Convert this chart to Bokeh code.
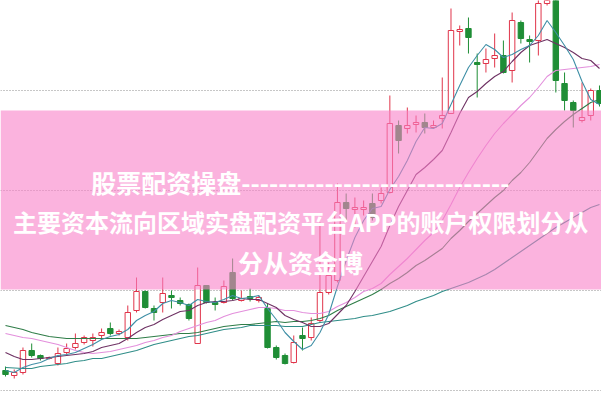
from bokeh.plotting import figure
from bokeh.models import Range1d, Grid, FixedTicker, BoxAnnotation, Label, ColumnDataSource
from bokeh.embed import file_html
from bokeh.resources import INLINE

# ---------------- data ----------------
opens = [13.0, 12.5, 12.8, 15.0, 14.5, 14.2, 13.7, 14.8, 15.3, 15.8,
         16.0, 16.5, 17.2, 16.7, 16.3, 19.0, 20.9, 19.2, 19.8, 20.5,
         20.0, 19.6, 15.7, 21.5, 19.8, 19.8, 22.8, 20.0, 20.4, 20.0,
         19.2, 15.3, 14.5, 13.8, 16.5, 16.3, 18.0, 20.8, 22.0, 29.8,
         29.1, 29.1, 29.7, 30.0, 30.8, 37.5, 37.2, 37.6, 37.8, 37.3,
         38.2, 38.7, 46.9, 47.2, 43.8, 43.7, 44.2, 44.5, 43.0, 47.8,
         46.1, 46.0, 49.7, 50.3, 41.7, 39.8, 38.0, 38.5, 41.0]
closes = [12.6, 12.8, 15.0, 14.5, 14.2, 14.3, 14.7, 15.2, 15.7, 16.3,
          16.3, 16.8, 16.7, 16.9, 18.8, 20.9, 19.3, 18.8, 20.7, 20.3,
          19.7, 18.2, 21.5, 19.8, 19.6, 21.4, 20.2, 20.2, 20.2, 20.3,
          15.3, 14.3, 13.7, 15.8, 16.2, 17.7, 20.8, 22.5, 29.8, 29.2,
          29.3, 29.3, 28.3, 30.7, 37.7, 36.0, 37.5, 37.8, 37.3, 37.5,
          38.5, 47.0, 47.1, 46.3, 43.6, 44.1, 44.5, 42.8, 48.0, 46.2,
          45.9, 49.7, 50.0, 42.0, 40.0, 39.0, 38.3, 41.0, 39.7]
highs = [13.4, 13.1, 15.3, 15.7, 14.6, 14.4, 15.3, 15.7, 16.7, 16.5,
         16.7, 17.2, 17.8, 17.1, 19.5, 22.3, 21.0, 19.5, 22.3, 21.0,
         20.3, 19.7, 23.3, 21.5, 20.3, 22.0, 24.2, 21.0, 21.2, 20.5,
         19.7, 15.5, 14.7, 16.5, 17.3, 18.3, 27.8, 23.8, 31.7, 30.7,
         30.3, 30.0, 30.7, 31.3, 40.5, 38.0, 39.3, 38.5, 38.7, 38.0,
         42.3, 49.2, 47.5, 48.3, 44.7, 45.2, 46.7, 46.0, 48.8, 48.0,
         46.5, 50.5, 50.5, 50.5, 42.8, 40.0, 41.8, 41.2, 41.5]
lows = [12.4, 12.2, 12.6, 14.3, 14.0, 14.1, 13.5, 14.6, 15.1, 15.6,
        15.4, 16.2, 16.5, 16.5, 16.0, 18.8, 19.2, 18.0, 18.8, 19.2,
        19.5, 18.0, 15.7, 19.7, 19.0, 19.7, 20.0, 19.9, 19.9, 19.8,
        15.2, 14.1, 13.6, 13.7, 15.0, 16.0, 17.8, 20.6, 21.8, 28.0,
        27.3, 28.5, 28.0, 29.7, 30.7, 34.7, 36.7, 36.8, 36.7, 37.2,
        37.2, 38.7, 45.5, 44.7, 40.3, 42.8, 43.3, 42.7, 41.8, 45.7,
        43.8, 44.5, 49.5, 40.8, 39.0, 37.3, 37.8, 38.0, 39.4]

ma5 = [13.0, 12.8, 13.3, 13.6, 13.8, 14.2, 14.5, 14.6, 14.8, 15.2,
       15.6, 16.1, 16.4, 16.6, 17.1, 18.0, 18.5, 18.9, 19.7, 20.0,
       19.8, 19.5, 20.1, 19.9, 19.8, 20.1, 20.5, 20.2, 20.3, 20.5,
       19.2, 18.1, 16.8, 15.9, 15.1, 15.5, 16.8, 18.6, 21.4, 24.0,
       26.3, 28.0, 29.2, 29.4, 31.1, 32.4, 34.0, 35.9, 37.3, 37.2,
       37.7, 39.6, 41.5, 43.3, 44.5, 45.6, 45.1, 44.3, 44.6, 45.1,
       45.5, 46.5, 48.0, 46.8, 45.5, 44.1, 41.9, 40.1, 39.6]
ma10 = [14.8, 14.4, 14.1, 14.1, 14.2, 14.3, 14.4, 14.5, 14.6, 14.7,
        14.9, 15.3, 15.5, 15.7, 16.2, 16.8, 17.3, 17.6, 18.1, 18.5,
        18.9, 19.0, 19.5, 19.8, 19.9, 19.9, 20.0, 20.2, 20.1, 20.1,
        19.7, 19.3, 18.5, 18.1, 17.8, 17.4, 17.4, 17.7, 18.6, 19.5,
        20.9, 22.4, 23.9, 25.4, 27.5, 29.4, 31.0, 32.6, 33.3, 34.1,
        35.0, 36.8, 38.7, 40.3, 40.9, 41.7, 42.4, 42.9, 43.9, 44.8,
        45.5, 45.8, 46.1, 45.7, 45.3, 44.8, 44.2, 44.0, 43.2]
ma20 = [16.7, 16.5, 16.3, 16.2, 16.0, 15.8, 15.6, 15.3, 15.0, 14.8,
        14.7, 14.8, 14.9, 15.1, 15.3, 15.5, 15.8, 16.0, 16.3, 16.5,
        16.9, 17.2, 17.5, 17.8, 18.0, 18.4, 18.7, 18.9, 19.1, 19.3,
        19.3, 19.2, 19.0, 19.0, 18.8, 18.7, 18.7, 18.9, 19.4, 19.8,
        20.3, 20.9, 21.2, 21.7, 22.6, 23.4, 24.2, 25.1, 26.0, 26.8,
        28.0, 29.6, 31.3, 32.8, 34.2, 35.5, 36.7, 37.7, 38.6, 39.5,
        40.3, 41.3, 42.4, 43.0, 43.1, 43.2, 43.3, 43.4, 43.6]
ma30 = [17.5, 17.3, 17.1, 16.8, 16.6, 16.4, 16.3, 16.2, 16.2, 16.2,
        16.2, 16.2, 16.2, 16.2, 16.2, 16.2, 16.3, 16.4, 16.5, 16.6,
        16.7, 16.7, 16.8, 17.0, 17.2, 17.4, 17.5, 17.6, 17.6, 17.7,
        17.8, 17.9, 17.8, 17.9, 17.9, 18.0, 18.2, 18.5, 19.0, 19.4,
        19.8, 20.2, 20.6, 21.1, 21.7, 22.2, 22.8, 23.5, 24.0, 24.6,
        25.2, 26.2, 27.0, 27.9, 28.7, 29.5, 30.3, 31.0, 32.0, 32.8,
        33.8, 35.0, 36.2, 37.1, 37.9, 38.6, 39.2, 39.8, 40.1]
ma60 = [13.3, 13.25, 13.2, 13.2, 13.4, 13.5, 13.6, 13.7, 13.9, 14.0,
        14.2, 14.2, 14.4, 14.6, 14.8, 15.0, 15.3, 15.6, 15.8, 16.0,
        16.2, 16.4, 16.5, 16.7, 16.9, 17.1, 17.2, 17.3, 17.5, 17.5,
        17.5, 17.5, 17.4, 17.4, 17.4, 17.6, 17.8, 17.9, 18.0, 18.1,
        18.2, 18.4, 18.5, 18.7, 18.9, 19.2, 19.5, 19.9, 20.2, 20.5,
        20.9, 21.2, 21.5, 21.8, 22.2, 22.6, 23.1, 23.7, 24.3, 24.9,
        25.5, 26.1, 26.7, 27.3, 27.8, 28.3, 28.8, 29.3, 29.6]

grid_levels = [11, 21, 31, 41]
band_bottom, band_top = 21.1, 39.0
text_lines = ["股票配资操盘" + "-" * 29,
              "主要资本流向区域实盘配资平台APP的账户权限划分从",
              "分从资金博"]

# ---------------- styling ----------------
RED = "#e0344a"
GREEN = "#1f8e36"
MA_COLORS = ["#3f8fa6", "#6e3163", "#e38fdc", "#2f7d48", "#2f8d88"]
FONT = "Noto Sans CJK SC"

n = len(opens)
idx = list(range(n))
up = [c >= o for o, c in zip(opens, closes)]
src = ColumnDataSource(dict(
    x=idx, h=highs, l=lows,
    top=[max(o, c) for o, c in zip(opens, closes)],
    bottom=[min(o, c) for o, c in zip(opens, closes)],
    color=[RED if u else GREEN for u in up],
    fill=["white" if u else GREEN for u in up],
))

p = figure(width=601, height=401, output_backend="svg", toolbar_location=None,
           x_axis_location=None, y_axis_location=None,
           x_range=Range1d(-0.572, 68.23), y_range=Range1d(9.9, 50.0),
           min_border=0, outline_line_color=None,
           background_fill_color="white", border_fill_color="white")
p.grid.visible = False
p.add_layout(Grid(dimension=1, ticker=FixedTicker(ticks=grid_levels),
                  grid_line_color="#8f8f8f", grid_line_dash="1 2", grid_line_width=1))

p.segment(x0="x", y0="l", x1="x", y1="h", line_color="color", line_width=1, source=src)
p.vbar(x="x", width=0.62, top="top", bottom="bottom", fill_color="fill",
       line_color="color", line_width=1, source=src)

for series, col in zip([ma60, ma30, ma20, ma10, ma5], MA_COLORS[::-1]):
    p.line(idx, series, line_color=col, line_width=1.1)

p.add_layout(BoxAnnotation(bottom=band_bottom, top=band_top, fill_color="#f880c8",
                           fill_alpha=0.6, line_alpha=0))

label_kw = dict(text_color="white", text_font=FONT, text_font_style="bold",
                text_baseline="middle")
p.add_layout(Label(x=33.77, y=31.9, text=text_lines[0], text_align="center",
                   text_font_size="25px", **label_kw))
p.add_layout(Label(x=33.8, y=27.95, text=text_lines[1], text_align="center",
                   text_font_size="24px", **label_kw))
p.add_layout(Label(x=33.77, y=23.9, text=text_lines[2], text_align="center",
                   text_font_size="25px", **label_kw))

open("out.html", "w").write(file_html(p, INLINE))
